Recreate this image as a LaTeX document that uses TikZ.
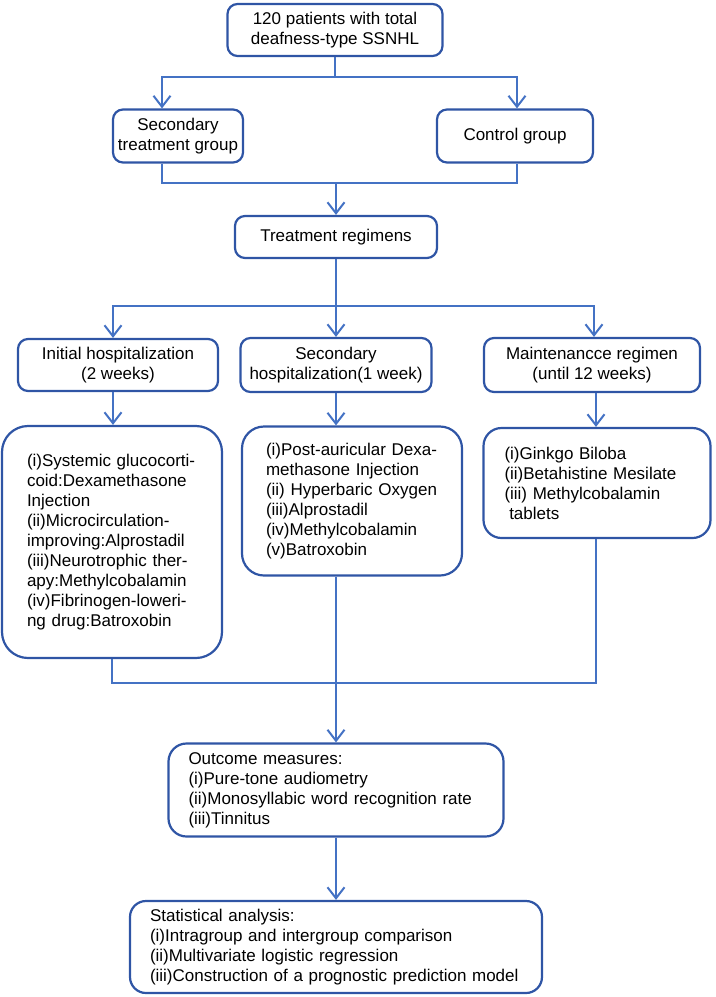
\documentclass[tikz,border=0pt]{standalone}
\usepackage{fontspec}
\setmainfont{Liberation Sans}
\usetikzlibrary{arrows.meta}
\newlength\px \setlength\px{0.75pt}
\definecolor{boxblue}{RGB}{47,85,165}
\definecolor{lineblue}{RGB}{68,114,196}
\begin{document}
\begin{tikzpicture}[x=0.75pt, y=-0.75pt,
    box/.style={draw=boxblue, line width=2.2\px, rounded corners=10\px, align=center,
        inner sep=0pt, font=\fontsize{12.75}{15.6}\selectfont},
    listbox/.style={box, align=left, font=\fontsize{12.75}{15}\selectfont},
    conn/.style={draw=lineblue, line width=2\px},
    arr/.style={conn, -{Straight Barb[length=8.25pt, width=12.75pt, line width=1.5pt]}}]
    \useasboundingbox (0,0) rectangle (715,997);

    % groups
    \node[box, minimum width=215\px, minimum height=52\px] (top) at (335,30)
        {120 patients with total\\deafness-type SSNHL};
    \node[box, minimum width=130\px, minimum height=53\px] (sec) at (178,136)
        {Secondary\\treatment group};
    \node[box, minimum width=156\px, minimum height=53\px] (ctrl) at (515,136)
        {Control group};
    \node[box, minimum width=202\px, minimum height=42\px] (treat) at (336,237)
        {Treatment regimens};

    % regimens
    \node[box, minimum width=200\px, minimum height=52\px] (hospA) at (118,365)
        {Initial hospitalization\\(2 weeks)};
    \node[box, minimum width=191\px, minimum height=54\px] (hospB) at (336,365)
        {Secondary\\hospitalization(1 week)};
    \node[box, minimum width=216\px, minimum height=54\px] (maint) at (592,365)
        {Maintenancce regimen\\(until 12 weeks)};

    % drugs
    \node[listbox, rounded corners=26\px, minimum width=220\px, minimum height=232\px,
        text width=170\px] (drugsA) at (112,542)
        {(i)Systemic glucocorti-\\coid:Dexamethasone\\Injection\\(ii)Microcirculation-\\improving:Alprostadil\\(iii)Neurotrophic ther-\\apy:Methylcobalamin\\(iv)Fibrinogen-loweri-\\ng drug:Batroxobin};
    \node[listbox, rounded corners=22\px, minimum width=220\px, minimum height=149\px,
        text width=172\px] (drugsB) at (352,501)
        {(i)Post-auricular Dexa-\\methasone Injection\\(ii) Hyperbaric Oxygen\\(iii)Alprostadil\\(iv)Methylcobalamin\\(v)Batroxobin};
    \node[listbox, rounded corners=18\px, minimum width=227\px, minimum height=110\px,
        text width=185\px] (drugsC) at (597,483)
        {(i)Ginkgo Biloba\\(ii)Betahistine Mesilate\\(iii) Methylcobalamin\\\hspace*{0.28em}tablets};

    % outcome
    \node[listbox, rounded corners=18\px, minimum width=335\px, minimum height=93\px,
        text width=295\px] (outcome) at (336,790)
        {Outcome measures:\\(i)Pure-tone audiometry\\(ii)Monosyllabic word recognition rate\\(iii)Tinnitus};
    \node[listbox, rounded corners=16\px, minimum width=412\px, minimum height=92\px,
        text width=372\px] (stats) at (336,947)
        {Statistical analysis:\\(i)Intragroup and intergroup comparison\\(ii)Multivariate logistic regression\\(iii)Construction of a prognostic prediction model};

    \coordinate (split1) at (335,77);
    \coordinate (join1) at (336,183);
    \coordinate (split2) at (336,306);
    \coordinate (join2) at (336,683);

    \draw[conn] (top.south) -- (split1);
    \draw[arr] (split1) -| ([xshift=-12pt]sec.north);
    \draw[arr] (split1) -| ([xshift=1.5pt]ctrl.north);
    \draw[conn] ([xshift=-12pt]sec.south) |- (join1) -| ([xshift=1.5pt]ctrl.south);
    \draw[arr] (join1) -- (treat.north);

    \draw[arr] (treat.south) -- (hospB.north);
    \draw[arr] (split2) -| ([xshift=-3.75pt]hospA.north);
    \draw[arr] (split2) -| ([xshift=1.5pt]maint.north);

    \draw[arr] ([xshift=-3.75pt]hospA.south) -- ([xshift=0.75pt]drugsA.north);
    \draw[arr] (hospB.south) -- (hospB.south |- drugsB.north);
    \draw[arr] ([xshift=3pt]maint.south) -- ([xshift=-0.75pt]drugsC.north);

    \draw[conn] (drugsA.south) |- (join2) -| ([xshift=-0.75pt]drugsC.south);
    \draw[arr] (hospB.south |- drugsB.south) -- (outcome.north);
    \draw[arr] (outcome.south) -- (stats.north);
\end{tikzpicture}
\end{document}
